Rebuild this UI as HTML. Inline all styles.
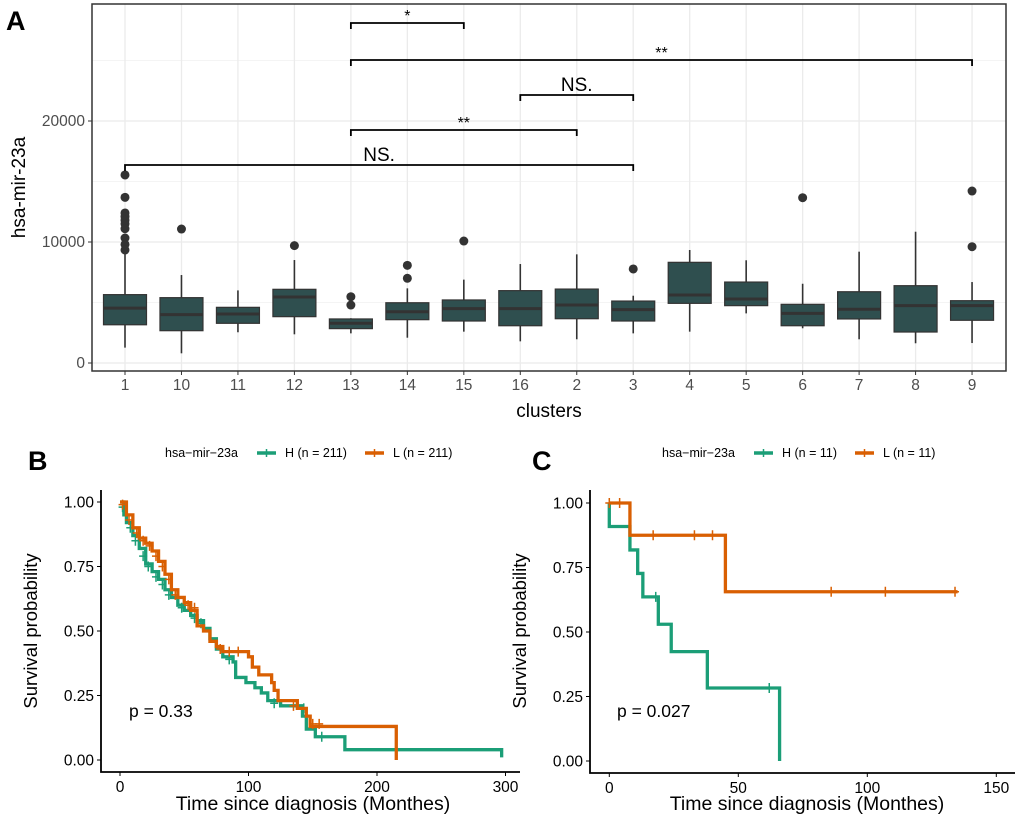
<!DOCTYPE html>
<html><head><meta charset="utf-8"><style>
html,body{margin:0;padding:0;background:#fff;}
svg{display:block;font-family:"Liberation Sans",Arial,sans-serif;}
</style></head><body>
<svg id="fig" width="1020" height="824" viewBox="0 0 1020 824" xmlns="http://www.w3.org/2000/svg">
<text x="6" y="30" font-size="27" font-weight="bold">A</text>
<text x="28" y="470" font-size="27" font-weight="bold">B</text>
<text x="532" y="470" font-size="27" font-weight="bold">C</text>
<g id="pa"></g>
<g id="pb"></g>
<g id="pc"></g>
</svg>
<script>
// ---- Panel A data ----
const clusters = ["1","10","11","12","13","14","15","16","2","3","4","5","6","7","8","9"];
const boxLow  = [1270, 800,2540,2370,2450,2090,2590,1790,1960,2450,2590,4100,2870,1960,1630,1650];
const boxQ1   = [3160,2670,3280,3830,2840,3580,3470,3080,3660,3470,4930,4740,3080,3640,2560,3530];
const boxMed  = [4540,4000,4050,5450,3280,4240,4490,4490,4790,4410,5620,5290,4100,4440,4740,4740];
const boxQ3   = [5650,5400,4600,6090,3640,4980,5210,5980,6110,5120,8320,6690,4850,5890,6390,5150];
const boxHigh = [9100,7270,6000,8510,3700,6170,6890,8180,8980,5560,9340,8490,6550,9200,10850,6690];
const outliers = [[15540,13690,12400,12100,11800,11500,11100,10330,9800,9340],[11070],[],[9700],[5480,4790],[8070,7000],[10080],[],[],[7770],[],[],[13660],[],[],[9610,14210]];
const yTicksA = [0,10000,20000];
const brackets = [["13","15","*",23],["13","9","**",60],["16","3","NS.",95],["13","2","**",130],["1","3","NS.",165]];

// ---- Panel B data ----
const bHtime = [0,3,5,10,15,20,25,30,35,40,45,50,55,60,65,70,75,80,88,90,98,105,110,115,125,142,145,152,175,297];
const bHsurv = [1,0.95,0.92,0.87,0.82,0.76,0.73,0.70,0.66,0.63,0.60,0.58,0.56,0.54,0.51,0.47,0.43,0.40,0.38,0.32,0.30,0.28,0.26,0.23,0.21,0.17,0.12,0.09,0.04,0.01];
const bLtime = [0,5,10,15,20,25,30,35,40,45,50,55,60,65,70,75,80,100,103,108,118,120,123,138,145,148,215];
const bLsurv = [1,0.95,0.90,0.86,0.84,0.81,0.77,0.72,0.66,0.63,0.61,0.58,0.52,0.50,0.46,0.44,0.42,0.40,0.36,0.33,0.30,0.27,0.23,0.20,0.17,0.13,0.0];
const bHcens = [[2,0.98],[8,0.9],[12,0.85],[18,0.79],[22,0.75],[28,0.71],[33,0.68],[38,0.64],[48,0.59],[58,0.55],[63,0.53],[85,0.39],[120,0.22],[143,0.2],[157,0.09]];
const bLcens = [[2,0.99],[7,0.93],[13,0.88],[18,0.85],[23,0.83],[28,0.79],[33,0.75],[38,0.7],[43,0.64],[53,0.6],[58,0.59],[78,0.43],[85,0.42],[92,0.42],[135,0.21],[150,0.14],[155,0.14]];
// ---- Panel C data ----
const cHtime = [0,0,8,11,13,19,24,38,66];
const cHsurv = [1,0.909,0.818,0.727,0.636,0.530,0.424,0.283,0];
const cLtime = [0,8,45,135];
const cLsurv = [1,0.875,0.656,0.656];
const cHcens = [[18,0.636],[62,0.283]];
const cLcens = [[0,1],[4,1],[17,0.875],[33,0.875],[40,0.875],[86,0.656],[107,0.656],[134,0.656]];
const survTicks = [0,0.25,0.5,0.75,1];
const bXTicks = [0,100,200,300];
const cXTicks = [0,50,100,150];

const NS="http://www.w3.org/2000/svg";
function mk(parent,tag,attrs,text){const e=document.createElementNS(NS,tag);for(const k in attrs)e.setAttribute(k,attrs[k]);if(text!==undefined)e.textContent=text;parent.appendChild(e);return e;}

// ---- Panel A ----
const pa=document.getElementById('pa');
const xA=i=>125+i*56.47;
const yA=v=>363-v*0.0121;
const L=92,R=1006,T=4,B=371;
for(let v=5000;v<=25000;v+=10000){const g=mk(pa,'line',{x1:L,x2:R,y1:yA(v),y2:yA(v),stroke:'#f0f0f0','stroke-width':0.8});}
yTicksA.forEach(v=>{const g=mk(pa,'line',{x1:L,x2:R,y1:yA(v),y2:yA(v),stroke:'#ebebeb','stroke-width':1.3});});
clusters.forEach((c,i)=>{const g=mk(pa,'line',{x1:xA(i),x2:xA(i),y1:T,y2:B,stroke:'#ebebeb','stroke-width':1.3});});
yTicksA.forEach(v=>{
  const t=mk(pa,'line',{x1:L-4,x2:L,y1:yA(v),y2:yA(v),stroke:'#333','stroke-width':1});
  const l=mk(pa,'text',{x:L-7,y:yA(v)+5,'text-anchor':'end','font-size':15.5,fill:'#4d4d4d'},String(v));
});
clusters.forEach((c,i)=>{
  const x=xA(i),w=21.5;
  const g=mk(pa,'g',{});
  mk(g,'line',{x1:x,x2:x,y1:yA(boxLow[i]),y2:yA(boxQ1[i]),stroke:'#333','stroke-width':1.6});
  mk(g,'line',{x1:x,x2:x,y1:yA(boxQ3[i]),y2:yA(boxHigh[i]),stroke:'#333','stroke-width':1.6});
  mk(g,'rect',{x:x-w,y:yA(boxQ3[i]),width:2*w,height:yA(boxQ1[i])-yA(boxQ3[i]),fill:'#2f4f4f',stroke:'#333','stroke-width':1.2});
  mk(g,'line',{x1:x-w,x2:x+w,y1:yA(boxMed[i]),y2:yA(boxMed[i]),stroke:'#333','stroke-width':3});
  outliers[i].forEach(o=>{const p=mk(g,'circle',{cx:x,cy:yA(o),r:4.5,fill:'#333'});});
  const t=mk(pa,'line',{x1:x,x2:x,y1:B,y2:B+4,stroke:'#333','stroke-width':1});
  const l=mk(pa,'text',{x:x,y:390,'text-anchor':'middle','font-size':15.5,fill:'#4d4d4d'},c);
});
brackets.forEach(b=>{
  const x1=xA(clusters.indexOf(b[0])),x2=xA(clusters.indexOf(b[1])),y=b[3];
  const g=mk(pa,'path',{d:`M${x1},${y+6}V${y}H${x2}V${y+6}`,fill:'none',stroke:'#000','stroke-width':1.8});
  const isNS=b[2]==='NS.';
  const t=mk(pa,'text',{x:(x1+x2)/2,y:isNS?y-4:y-2,'text-anchor':'middle','font-size':isNS?19:16},b[2]);
});
const fr=mk(pa,'rect',{x:L,y:T,width:R-L,height:B-T,fill:'none',stroke:'#333','stroke-width':1.5});
const xt=mk(pa,'text',{x:(L+R)/2,y:417,'text-anchor':'middle','font-size':19},'clusters');
const yt=mk(pa,'text',{x:0,y:0,'text-anchor':'middle','font-size':19,transform:`translate(25,${(T+B)/2}) rotate(-90)`},'hsa-mir-23a');

// ---- Survival panels ----
function survPanel(gid,o){
  const g=document.getElementById(gid);
  const xs=t=>o.x0+t*o.kx, ys=s=>o.y0-s*258;
  const lg=mk(g,'g',{});
  mk(lg,'text',{x:o.lx[0],y:457,'font-size':12.5},'hsa\u2212mir\u221223a');
  [[o.lx[1],'#1b9e77','H (n = '+o.n+')'],[o.lx[2],'#d95f02','L (n = '+o.n+')']].forEach(e=>{
    const en=mk(lg,'g',{});
    mk(en,'line',{x1:e[0],x2:e[0]+19,y1:453,y2:453,stroke:e[1],'stroke-width':3.5});
    mk(en,'line',{x1:e[0]+9.5,x2:e[0]+9.5,y1:449,y2:457,stroke:e[1],'stroke-width':1.5});
    mk(en,'text',{x:e[0]+28,y:457,'font-size':12.5},e[2]);
  });
  const ax=mk(g,'path',{d:`M${o.ax},490V${o.ay}H${o.axEnd}`,fill:'none',stroke:'#000','stroke-width':1.8});
  survTicks.forEach(s=>{
    const t=mk(g,'line',{x1:o.ax-4,x2:o.ax,y1:ys(s),y2:ys(s),stroke:'#000','stroke-width':1});
    const l=mk(g,'text',{x:o.ax-7,y:ys(s)+5.5,'text-anchor':'end','font-size':15.5},s.toFixed(2));
  });
  o.xticks.forEach(v=>{
    const t=mk(g,'line',{x1:xs(v),x2:xs(v),y1:o.ay,y2:o.ay+4,stroke:'#000','stroke-width':1});
    const l=mk(g,'text',{x:xs(v),y:o.ay+20,'text-anchor':'middle','font-size':15.5},String(v));
  });
  const xtt=mk(g,'text',{x:o.xtitle,y:810,'text-anchor':'middle','font-size':19.5},'Time since diagnosis (Monthes)');
  const ytt=mk(g,'text',{x:0,y:0,'text-anchor':'middle','font-size':18.5,transform:`translate(${o.ax-64},631) rotate(-90)`},'Survival probability');
  o.series.forEach(s=>{
    let d=`M${xs(s.t[0])},${ys(s.s[0])}`;
    for(let i=1;i<s.t.length;i++){d+=`H${xs(s.t[i])}V${ys(s.s[i])}`;}
    if(s.end!==undefined)d+=`H${xs(s.end)}`;
    const p=mk(g,'path',{d:d,fill:'none',stroke:s.c,'stroke-width':3.3});
    s.cens.forEach(c=>{const m=mk(g,'path',{d:`M${xs(c[0])-4},${ys(c[1])}h8M${xs(c[0])},${ys(c[1])-5}v10`,stroke:s.c,'stroke-width':1.5});});
  });
  const pv=mk(g,'text',{x:o.px,y:717,'font-size':17.5},o.p);
}
survPanel('pb',{x0:120,kx:1.285,y0:760,ax:101,ay:772,axEnd:520,xticks:bXTicks,n:211,lx:[165,257,365],xtitle:313,px:129,p:'p = 0.33',
  series:[{t:bHtime,s:bHsurv,c:'#1b9e77',cens:bHcens,name:'curve-h'},{t:bLtime,s:bLsurv,c:'#d95f02',cens:bLcens,name:'curve-l'}]});
survPanel('pc',{x0:609.3,kx:2.58,y0:761,ax:590,ay:773,axEnd:1015,xticks:cXTicks,n:11,lx:[662,754,855],xtitle:807,px:617,p:'p = 0.027',
  series:[{t:cHtime,s:cHsurv,c:'#1b9e77',cens:cHcens,name:'curve-h'},{t:cLtime,s:cLsurv,c:'#d95f02',cens:cLcens,name:'curve-l',end:135}]});
</script>
</body></html>
